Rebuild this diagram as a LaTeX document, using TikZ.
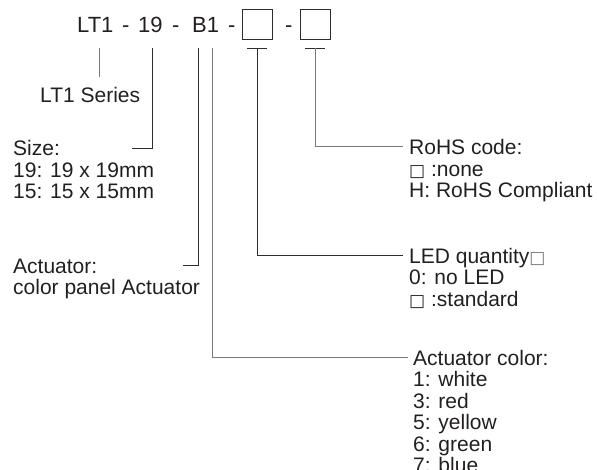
\documentclass[tikz,border=0pt]{standalone}
\usepackage{fontspec}
\setmainfont{Liberation Sans}
\newfontfamily\dvfont{DejaVu Sans}
\definecolor{ink}{RGB}{35,31,32}
\definecolor{wire}{RGB}{45,45,45}
\definecolor{lightwire}{RGB}{120,120,120}
\newcommand{\sqbox}{{\dvfont\fontsize{17}{17}\selectfont □}}
\newcommand{\sqlight}{{\color{lightwire}\dvfont\fontsize{17}{17}\selectfont □}}
\tikzset{
  lbl/.style={anchor=base west, inner sep=0pt, text=ink, align=left,
    font=\fontsize{21}{21.5}\selectfont},
  ttl/.style={anchor=base west, inner sep=0pt, text=ink,
    font=\fontsize{22}{22}\selectfont},
  codebox/.style={draw=wire, line width=0.9pt, minimum width=30pt, minimum height=30pt, inner sep=0pt},
  wire/.style={draw=wire, line width=0.9pt},
  greywire/.style={draw=lightwire, line width=0.9pt}
}
\begin{document}
\begin{tikzpicture}[x=1pt,y=-1pt]
\useasboundingbox (0,0) rectangle (597,470);
% title code
\node[ttl] (t1) at (77,33) {LT1};
\node[ttl] (d1) at (122,33) {-};
\node[ttl] (t2) at (138,33) {19};
\node[ttl] (d2) at (172,33) {-};
\node[ttl] (t3) at (192,33) {B1};
\node[ttl] (d3) at (228,33) {-};
\node[codebox] (b1) at (257,24) {};
\node[ttl] (d4) at (285,33) {-};
\node[codebox] (b2) at (315.5,24) {};
% labels (anchored at the baseline of the last line)
\node[lbl] (series) at (40,103) {LT1 Series};
\node[lbl] (size) at (13,199) {Size:\\19: 19 x 19mm\\15: 15 x 15mm};
\node[lbl] (act) at (13,295) {Actuator:\\color panel Actuator};
\node[lbl] (rohs) at (409,198) {RoHS code:\\\sqbox\ :none\\H: RoHS Compliant};
\node[lbl] (led) at (409,306) {LED quantity\sqlight\\0: no LED\\\sqbox\ :standard};
\node[lbl] (col) at (413,472.5) {Actuator color:\\1: white\\3: red\\5: yellow\\6: green\\7: blue};
% connector coordinates
\coordinate (s1) at (99,48);  \coordinate (s2) at (99,77);
\coordinate (z1) at (152,48); \coordinate (z2) at (132,148);
\coordinate (a1) at (198,48); \coordinate (a2) at (183,265);
\coordinate (c1) at (212,48); \coordinate (c2) at (408,357);
\coordinate (q1) at (257,48); \coordinate (q2) at (403,255);
\coordinate (r1) at (315,48); \coordinate (r2) at (403,146);
\coordinate (qa) at (247,48); \coordinate (qb) at (267,48);
\coordinate (ra) at (305,48); \coordinate (rb) at (325,48);
% connectors
\draw[greywire] (s1) -- (s2);
\draw[wire] (z1) |- (z2);
\draw[wire] (a1) |- (a2);
\draw[greywire] (c1) |- (c2);
\draw[wire] (qa) -- (qb);
\draw[wire] (q1) |- (q2);
\draw[wire] (ra) -- (rb);
\draw[greywire] (r1) |- (r2);
\end{tikzpicture}
\end{document}
